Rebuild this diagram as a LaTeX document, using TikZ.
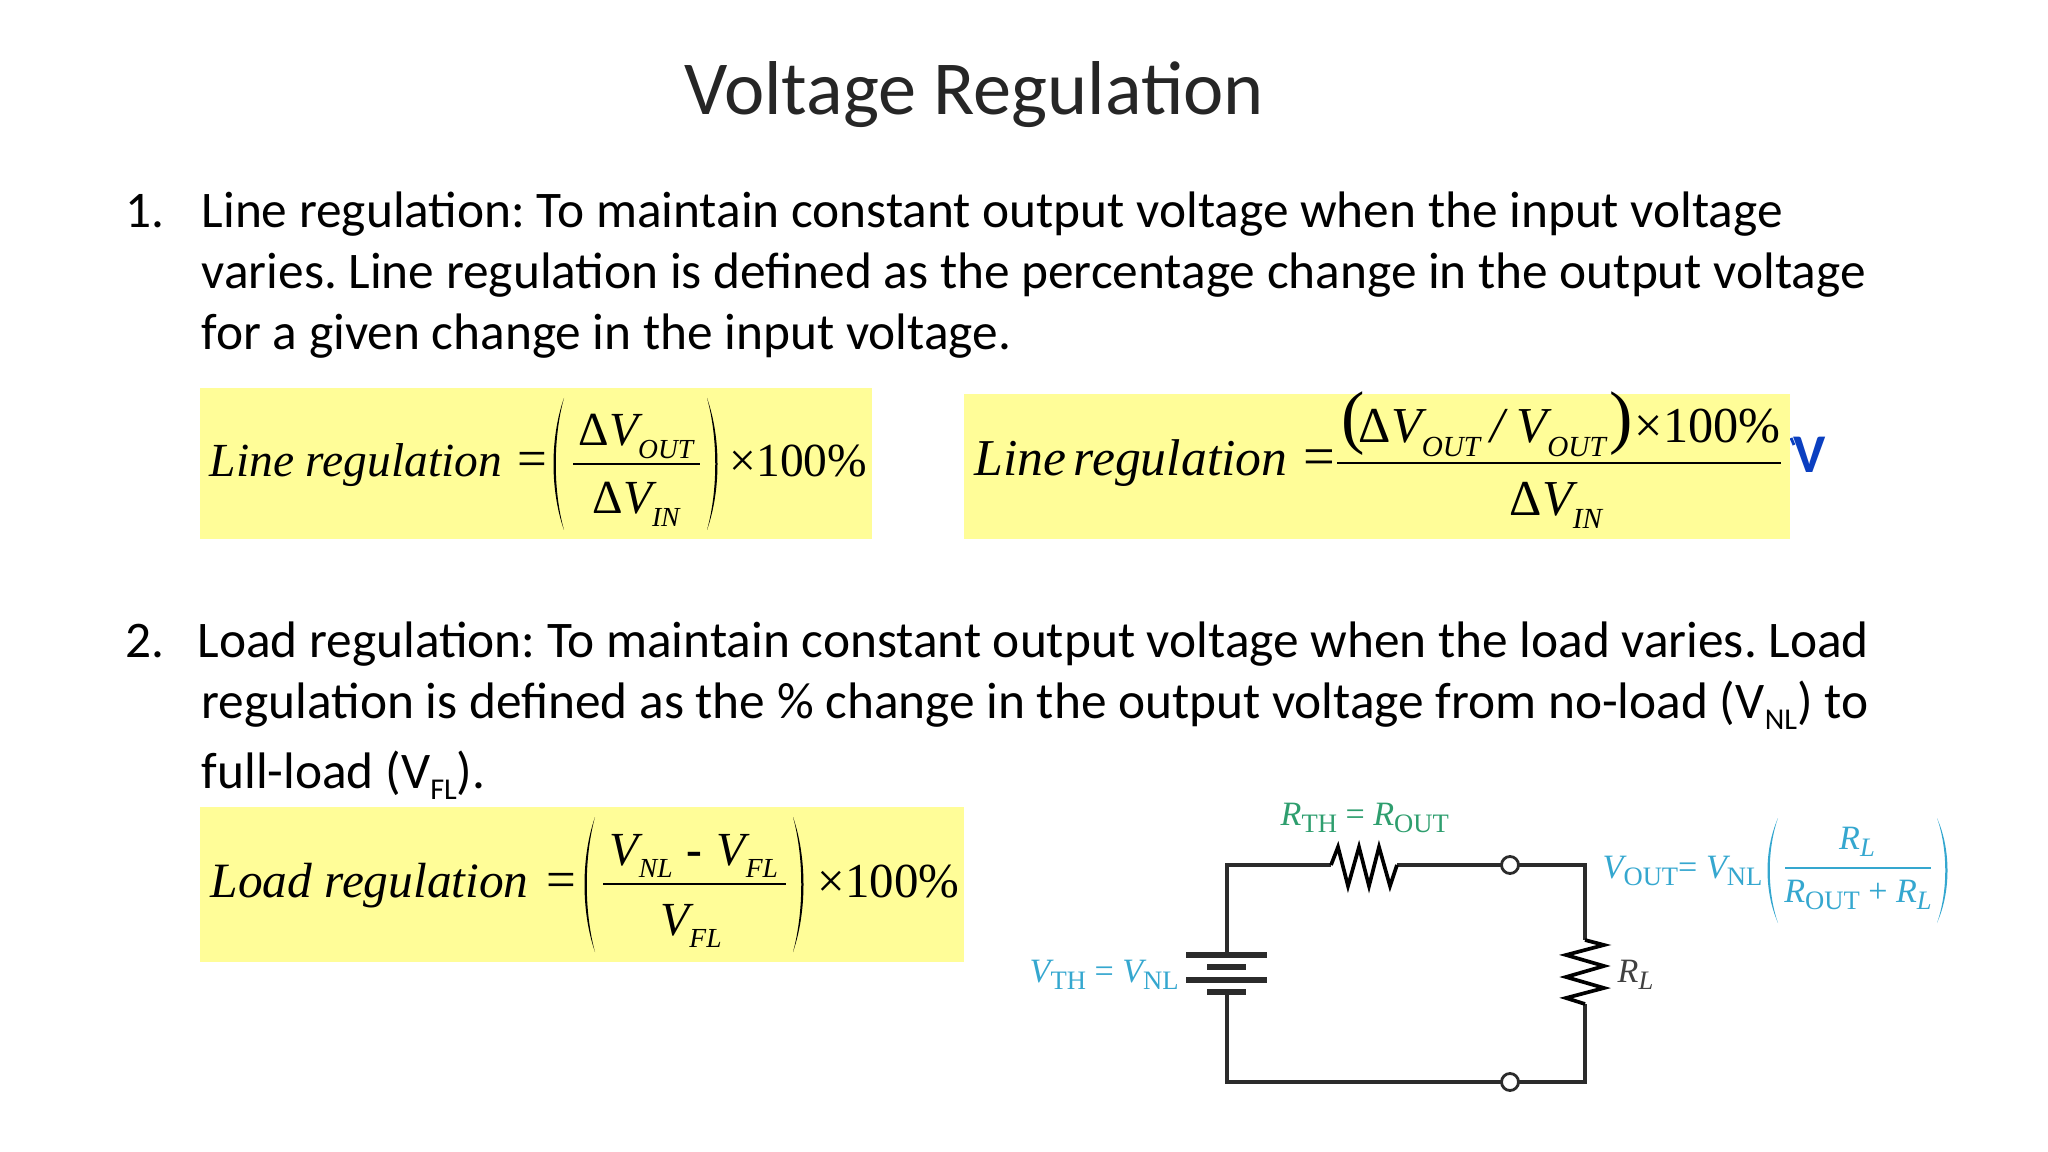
\documentclass[tikz,border=0pt]{standalone}
\usepackage{fontspec}
\usetikzlibrary{calc}
\setmainfont{Carlito}
\newfontfamily\eqfont{Liberation Serif}
\frenchspacing

\definecolor{boxyellow}{HTML}{FFFD98}
\definecolor{slipblue}{HTML}{0B3FC0}
\definecolor{thgreen}{HTML}{2E9E6E}
\definecolor{thcyan}{HTML}{35A7CF}
\definecolor{wiregray}{HTML}{2B2B2B}

% subscript of the printed body text
\newcommand{\bodysub}[1]{\raisebox{-3.4pt}{\fontsize{8.6}{8.6}\selectfont #1}}
% subscript of the yellow formulas and of the circuit labels
\newcommand{\eqsub}[1]{\raisebox{-0.26em}{\fontsize{0.58em}{1em}\selectfont #1}}
\newcommand{\thsub}[1]{\raisebox{-0.22em}{\fontsize{0.78em}{1em}\selectfont\upshape #1}}
\newcommand{\thisub}[1]{\raisebox{-0.22em}{\fontsize{0.78em}{1em}\selectfont #1}}
\newcommand{\deltaup}{{\upshape\symbol{"0394}}}
% tall bracket: x, top, bottom, direction (1 left, -1 right)
\newcommand{\eqparen}[5][black]{
    \fill[#1] (#2+#5*11,#3) .. controls (#2-#5*3,{#3+(#4-#3)*0.3}) and (#2-#5*3,{#3+(#4-#3)*0.7}) .. (#2+#5*11,#4)
        .. controls (#2,{#3+(#4-#3)*0.7}) and (#2,{#3+(#4-#3)*0.3}) .. cycle;
}

\tikzset{
    bodyline/.style={anchor=base west,inner sep=0pt,font=\fontsize{14.6}{17}\selectfont,text=black},
    eqbox/.style={fill=boxyellow,draw=none},
    eqtext/.style={anchor=base west,inner sep=0pt,font=\eqfont\itshape\fontsize{13.5}{16}\selectfont},
    eqmid/.style={anchor=base,inner sep=0pt,font=\eqfont\itshape\fontsize{13.5}{16}\selectfont},
    eqrule/.style={line width=0.6pt},
    wire/.style={wiregray,line width=0.9pt},
    plate/.style={wiregray,line width=1.6pt},
    zigzag/.style={black,line width=1.05pt,line join=miter},
    terminal/.style={circle,draw=wiregray,fill=white,line width=0.8pt,inner sep=0pt,minimum size=0.17cm},
    thlabel/.style={anchor=base west,inner sep=0pt,font=\eqfont\itshape\fontsize{9.7}{12}\selectfont},
}

\begin{document}
\begin{tikzpicture}[x=0.01cm,y=-0.01cm]
    \useasboundingbox (0,0) rectangle (2048,1152);

    % Title
    \node[anchor=base,inner sep=0pt,font=\fontsize{21.7}{26}\selectfont,text=black!85] (title) at (974,115) {Voltage Regulation};

    % First item
    \node[bodyline] (num1) at (125,228) {1.};
    \node[bodyline] (line1a) at (201,228) {Line regulation: To maintain constant output voltage when the input voltage};
    \node[bodyline] (line1b) at (201,289) {varies. Line regulation is defined as the percentage change in the output voltage};
    \node[bodyline] (line1c) at (201,350) {for a given change in the input voltage.};

    % Second item
    \node[bodyline] (num2) at (125,657) {2.};
    \node[bodyline] (line2a) at (197,657) {Load regulation: To maintain constant output voltage when the load varies. Load};
    \node[bodyline] (line2b) at (201,718) {regulation is defined as the \% change in the output voltage from no-load (V\bodysub{NL}) to};
    \node[bodyline] (line2c) at (201,788) {full-load (V\bodysub{FL}).};

    % Blue letter behind the second box
    \node[anchor=base west,inner sep=0pt,font=\bfseries\fontsize{15.5}{18}\selectfont,text=slipblue] (slipV) at (1793,473) {V};
    \draw[slipblue,line width=0.8pt] (1791,438) -- (1794,445);

    % Yellow boxes
    \fill[eqbox] (200,388) rectangle (872,539);
    \fill[eqbox] (964,394) rectangle (1790,539);
    \fill[eqbox] (200,807) rectangle (964,962);

    % Left line regulation formula
    \node[eqtext] (lineA) at (209,477) {Line regulation};
    \node[eqtext,font=\eqfont\fontsize{15}{16}\selectfont] (eqA) at (517,477) {=};
    \node[eqmid] (numA) at (636,446) {\deltaup V\eqsub{OUT}};
    \node[eqmid] (denA) at (636,514) {\deltaup V\eqsub{IN}};
    \node[eqtext,font=\eqfont\fontsize{13.5}{16}\selectfont] (pctA) at (729,477) {×100\%};
    \coordinate (ruleA1) at (573,464);
    \coordinate (ruleA2) at (700,464);
    \draw[eqrule] (ruleA1) -- (ruleA2);
    \eqparen{553}{398}{530}{1}
    \eqparen{718}{398}{530}{-1}

    % Right line regulation formula
    \node[eqtext,font=\eqfont\itshape\fontsize{14.7}{16}\selectfont] (lineB) at (974,476) {Line\kern-1.6pt\ regulation};
    \node[eqtext,font=\eqfont\fontsize{16}{16}\selectfont] (eqB) at (1303,476) {=};
    \node[eqtext,font=\eqfont\fontsize{20}{24}\selectfont] (openB) at (1341,441) {(};
    \node[eqtext,font=\eqfont\itshape\fontsize{14.3}{16}\selectfont] (numB) at (1358,443) {\deltaup V\eqsub{OUT}\kern0.2em/\kern0.25em V\eqsub{OUT}};
    \node[eqtext,font=\eqfont\fontsize{20}{24}\selectfont] (closeB) at (1609,441) {)};
    \node[eqtext,font=\eqfont\fontsize{14.3}{16}\selectfont] (pctB) at (1634,443) {×100\%};
    \node[eqmid,font=\eqfont\itshape\fontsize{14.3}{16}\selectfont] (denB) at (1556,515) {\deltaup V\eqsub{IN}};
    \coordinate (ruleB1) at (1337,463);
    \coordinate (ruleB2) at (1781,463);
    \draw[eqrule] (ruleB1) -- (ruleB2);

    % Load regulation formula
    \node[eqtext,font=\eqfont\itshape\fontsize{14.05}{16}\selectfont] (loadC) at (210,897) {Load regulation};
    \node[eqtext,font=\eqfont\fontsize{15}{16}\selectfont] (eqC) at (546,897) {=};
    \node[eqmid] (numC) at (694,865) {V\eqsub{NL}\kern0.3em{\upshape\bfseries -}\kern0.3em V\eqsub{FL}};
    \node[eqmid] (denC) at (691,935) {V\eqsub{FL}};
    \node[eqtext,font=\eqfont\fontsize{13.9}{16}\selectfont] (pctC) at (817,897) {×100\%};
    \coordinate (ruleC1) at (603,884);
    \coordinate (ruleC2) at (786,884);
    \draw[eqrule] (ruleC1) -- (ruleC2);
    \eqparen{584}{817}{952}{1}
    \eqparen{804}{817}{952}{-1}

    % Circuit corners
    \coordinate (TL) at (1227,865);
    \coordinate (TR) at (1585,865);
    \coordinate (BL) at (1227,1082);
    \coordinate (BR) at (1585,1082);
    \coordinate (R1a) at (1331,865);
    \coordinate (R1b) at (1397,865);
    \coordinate (R2a) at (1585,940);
    \coordinate (R2b) at (1585,1004);
    \coordinate (P1) at (1227,955);
    \coordinate (P4) at (1227,992);

    % Draw the wires
    \draw[wire] (P1) -- (TL) -- (R1a);
    \draw[wire] (R1b) -- (TR) -- (R2a);
    \draw[wire] (R2b) -- (BR) -- (BL) -- (P4);

    % Draw the resistors
    \draw[zigzag] (R1a) -- (1338,847) -- (1348,886) -- (1359,847) -- (1369,886) -- (1379,847) -- (1390,886) -- (R1b);
    \draw[zigzag] (R2a) -- (1604,945) -- (1566,955) -- (1604,966) -- (1566,977) -- (1604,988) -- (1566,998) -- (R2b);

    % Draw the battery
    \draw[plate] (1186,955) -- (1267,955);
    \draw[plate] (1207,967) -- (1246,967);
    \draw[plate] (1186,980) -- (1267,980);
    \draw[plate] (1207,992) -- (1246,992);

    % Draw the terminals
    \node[terminal] (outT) at (1510,865) {};
    \node[terminal] (outB) at (1510,1082) {};

    % Circuit labels
    \node[thlabel,text=thgreen] (rth) at (1280,825) {R\thsub{TH} {\upshape=} R\thsub{OUT}};
    \node[thlabel,text=thcyan] (vth) at (1029,982) {V\thsub{TH} {\upshape=} V\thsub{NL}};
    \node[thlabel,text=black!75] (rl) at (1617,982) {R\thisub{L}};
    \node[thlabel,text=thcyan] (vout) at (1602,878) {V\thsub{OUT}{\upshape=} V\thsub{NL}};
    \node[thlabel,anchor=base,text=thcyan] (fracN) at (1857,849) {R\thisub{L}};
    \node[thlabel,anchor=base,text=thcyan] (fracD) at (1858,902) {R\thsub{OUT} {\upshape+} R\thisub{L}};
    \coordinate (ruleD1) at (1785,868);
    \coordinate (ruleD2) at (1931,868);
    \draw[thcyan,line width=0.7pt] (ruleD1) -- (ruleD2);
    \eqparen[thcyan]{1767}{818}{923}{1}
    \eqparen[thcyan]{1948}{818}{923}{-1}
\end{tikzpicture}
\end{document}
